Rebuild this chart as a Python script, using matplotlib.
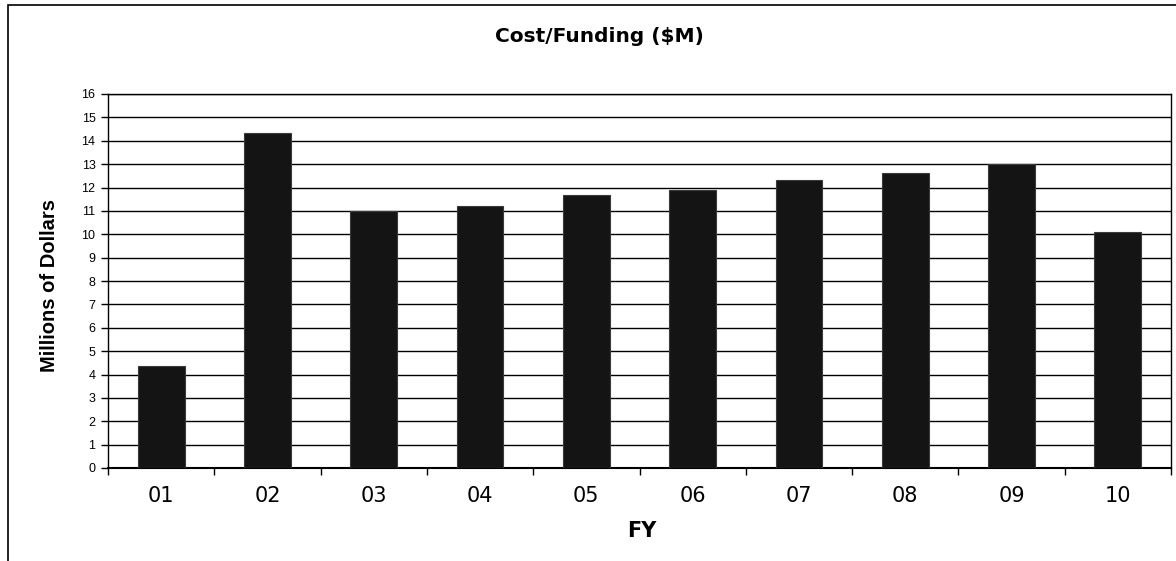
import numpy as np
import matplotlib
matplotlib.use('Agg')
import matplotlib.pyplot as plt
from matplotlib.patches import Rectangle

years = ['01', '02', '03', '04', '05', '06', '07', '08', '09', '10']
cost = [4.37, 14.35, 11.0, 11.2, 11.7, 11.9, 12.3, 12.6, 13.0, 10.1]
y_ticks = list(range(0, 17))

plt.rcParams['font.family'] = ['Liberation Sans', 'DejaVu Sans']

fig = plt.figure(figsize=(11.76, 5.61), dpi=100)
ax = fig.add_axes([108/1176, 1 - 468/561, (1171 - 108)/1176, (468 - 94)/561])

x = np.arange(len(years))
ax.bar(x, cost, width=0.44, color='#141414', edgecolor='#3a3a3a', linewidth=0.8, zorder=3)

ax.set_xlim(-0.5, len(years) - 0.5)
ax.set_ylim(0, 16)
ax.set_yticks(y_ticks)
ax.set_yticklabels([str(t) for t in y_ticks], fontsize=9)
ax.yaxis.grid(True, color='black', linewidth=1.0, zorder=0)

# labels centred, tick marks at category boundaries
ax.set_xticks(x)
ax.set_xticklabels(years, fontsize=15, family='DejaVu Sans')
ax.set_xticks(np.arange(-0.5, len(years)), minor=True)
ax.tick_params(axis='x', which='major', length=0, pad=13)
ax.tick_params(axis='x', which='minor', length=5, direction='out', width=1)
ax.tick_params(axis='y', length=5, direction='out', width=1, pad=4)

for s in ax.spines.values():
    s.set_color('black')
    s.set_linewidth(1.0)
ax.spines['bottom'].set_linewidth(1.5)

fig.text(642/1176, 1 - 531/561, 'FY', ha='center', va='center',
         fontsize=15, fontweight='bold', family='DejaVu Sans')
fig.text(50/1176, 1 - 286/561, 'Millions of Dollars', ha='center', va='center',
         rotation=90, fontsize=14.5, fontweight='bold')
fig.text(599/1176, 1 - 37/561, 'Cost/Funding ($M)', ha='center', va='center',
         fontsize=14.5, fontweight='bold', family='DejaVu Sans')

# outer chart frame
frame = Rectangle((8/1176, -0.1), 1.1, 1.1 - 5/561, transform=fig.transFigure,
                  fill=False, edgecolor='black', linewidth=1.2, clip_on=False)
fig.patches.append(frame)

fig.savefig('out.png', dpi=100)
